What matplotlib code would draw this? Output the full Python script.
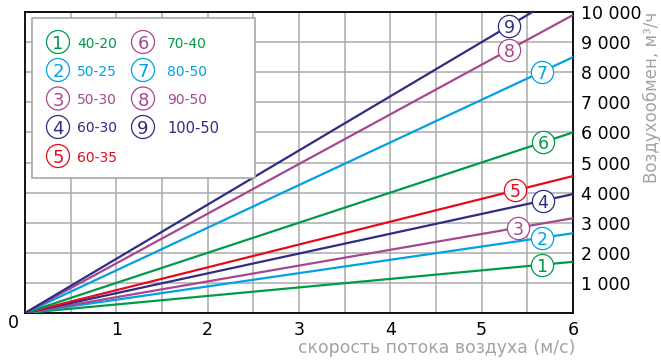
import matplotlib
matplotlib.use("Agg")
import matplotlib.pyplot as plt
from matplotlib.patches import Rectangle, Ellipse
import numpy as np

# --- data ---
series_ids = [1, 2, 3, 4, 5, 6, 7, 8, 9]
series_names = ["40-20", "50-25", "50-30", "60-30", "60-35",
                "70-40", "80-50", "90-50", "100-50"]
speed_end = 6.0
flow_at_end = [1700, 2650, 3150, 3950, 4550, 6000, 8500, 9900, 10800]
label_at_speed = [5.66, 5.66, 5.4, 5.67, 5.37, 5.67, 5.66, 5.3, 5.3]

GREEN, BLUE, PINK, NAVY, RED = "#009a49", "#00a2e3", "#a6478f", "#2f2c84", "#e30b1c"
colors = [GREEN, BLUE, PINK, NAVY, RED, GREEN, BLUE, PINK, NAVY]
# the legend in the original shows circle 6 in pink
legend_circle_colors = [GREEN, BLUE, PINK, NAVY, RED, PINK, BLUE, PINK, NAVY]

yticks = list(range(1000, 10001, 1000))
ytick_labels = [f"{v:,}".replace(",", " ") for v in yticks]
xticks = [1, 2, 3, 4, 5, 6]

W, H = 661, 363
fig = plt.figure(figsize=(W / 100, H / 100), dpi=100)
ax = fig.add_axes([25 / W, 1 - 313 / H, 548 / W, 301 / H])
ax.set_xlim(0, 6)
ax.set_ylim(0, 10000)

ax.set_xticks(xticks)
ax.set_xticks(np.arange(0.5, 6.0, 1.0), minor=True)
ax.set_xticklabels([str(t) for t in xticks], fontsize=12.5)
ax.set_yticks(yticks)
ax.set_yticklabels(ytick_labels, fontsize=12.5)
ax.yaxis.tick_right()
ax.tick_params(which="both", length=0, pad=6)
ax.grid(True, which="both", color="#ababab", lw=1.1)
ax.set_axisbelow(True)
for sp in ax.spines.values():
    sp.set_color("#111111")
    sp.set_linewidth(1.4)

for i, sid in enumerate(series_ids):
    c = colors[i]
    ax.plot([0, speed_end], [0, flow_at_end[i]], color=c, lw=1.6, zorder=3, clip_on=True)
    lx = label_at_speed[i]
    ly = flow_at_end[i] * lx / speed_end
    ax.plot(lx, ly, "o", ms=16, mfc="white", mec=c, mew=0.9, zorder=4)
    ax.text(lx, ly, str(sid), color=c, fontsize=12.5, ha="center",
            va="center_baseline", zorder=5)

fig.text(13 / W, 1 - 323 / H, "0", fontsize=12.5, ha="center", va="center")

fig.text(575 / W, 1 - 348 / H, "скорость потока воздуха (м/с)", color="#a3a3a3",
         fontsize=12.4, ha="right", va="center")
fig.text(652 / W, 1 - 97 / H, "Воздухообмен, м³/ч", color="#a3a3a3",
         fontsize=12, ha="center", va="center", rotation=90)

# legend box
lx0, ly0, lx1, ly1 = 32, 18, 255, 178
fig.patches.append(Rectangle((lx0 / W, 1 - ly1 / H), (lx1 - lx0) / W, (ly1 - ly0) / H,
                             transform=fig.transFigure, facecolor="white",
                             edgecolor="#a8a8a8", lw=1.2, zorder=10))
row_y = [42, 70, 98.5, 127, 156]
col_circle_x = [58, 143]
col_text_x = [77, 167]
for i, sid in enumerate(series_ids):
    col = 0 if i < 5 else 1
    row = i if i < 5 else i - 5
    cx, cy = col_circle_x[col], row_y[row]
    cc = legend_circle_colors[i]
    fig.patches.append(Ellipse((cx / W, 1 - cy / H), 23 / W, 23 / H,
                               transform=fig.transFigure, facecolor="white",
                               edgecolor=cc, lw=0.9, zorder=11))
    fig.text(cx / W, 1 - cy / H, str(sid), color=cc, fontsize=13, ha="center",
             va="center_baseline", zorder=12)
    fig.text(col_text_x[col] / W, 1 - cy / H, series_names[i], color=colors[i],
             fontsize=10.5 if sid == 9 else 10, ha="left", va="center_baseline", zorder=12)

fig.savefig("out.png", dpi=100)
